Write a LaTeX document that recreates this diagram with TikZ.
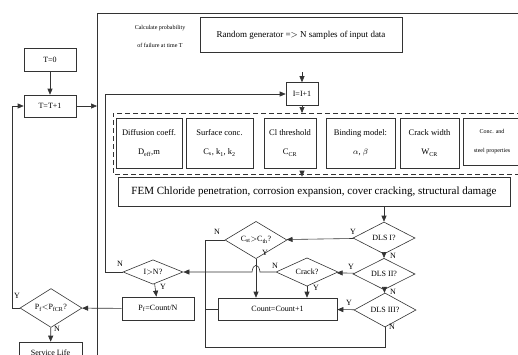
\documentclass[tikz,border=0pt]{standalone}
\usepackage{fontspec}
\setmainfont{Liberation Serif}
\usetikzlibrary{arrows.meta,shapes.geometric}

\tikzset{
  ln/.style={draw=black!80,line width=0.6pt},
  flow/.style={ln,-{Triangle[length=6pt,width=5pt]}},
  blk/.style={ln,rectangle,inner sep=1pt,align=center,font=\fontsize{8}{10}\selectfont},
  par/.style={blk,minimum height=50pt,font=\fontsize{8.5}{19}\selectfont},
  dec/.style={ln,diamond,inner sep=0pt,font=\fontsize{8}{9}\selectfont},
  yn/.style={inner sep=0pt,font=\fontsize{8}{9}\selectfont}
}

\begin{document}
\begin{tikzpicture}[x=1pt,y=-1pt]
\useasboundingbox (0,0) rectangle (518,354);
\clip (0,0) rectangle (518,354);
% outer frame and parameter group
\draw[ln] (530,13) -- (97,13) -- (97,360);
\draw[ln,line width=1pt,dash pattern=on 5pt off 3pt] (530,113) -- (113,113) -- (113,174) -- (530,174);
\node[align=center,font=\fontsize{6}{18}\selectfont] (title) at (160,36) {Calculate probability\\of failure at time T};
% time loop
\node[blk,minimum width=52pt,minimum height=23pt] (t0) at (50,60) {T=0};
\node[blk,minimum width=52pt,minimum height=22pt] (tinc) at (50,106) {T=T+1};
\coordinate (frm) at (97,106);
% sampling
\node[blk,minimum width=202pt,minimum height=35pt,font=\fontsize{9}{11}\selectfont] (randgen) at (301,35) {Random generator =$>$ N samples of input data};
\node[blk,minimum width=32pt,minimum height=23pt] (iinc) at (302,94) {I=I+1};
\coordinate (src) at (302,72);
\coordinate (grptop) at (302,113);
\coordinate (grpbot) at (302,174);
% input parameters
\node[par,minimum width=66pt] (diff) at (149,143) {Diffusion coeff.\\D\textsubscript{eff},m};
\node[par,minimum width=67pt] (surf) at (219.5,143) {Surface conc.\\C\textsubscript{s}, k\textsubscript{1}, k\textsubscript{2}};
\node[par,minimum width=52pt] (clth) at (290,143) {Cl threshold\\C\textsubscript{CR}};
\node[par,minimum width=69pt] (bind) at (360.5,143) {Binding model:\\$\alpha$, $\beta$};
\node[par,minimum width=59pt] (crackw) at (429.5,143) {Crack width\\W\textsubscript{CR}};
\node[blk,minimum width=58pt,minimum height=47pt,font=\fontsize{6}{19}\selectfont] (conc) at (492,141.5) {Conc. and\\steel properties};
\node[blk,minimum width=392pt,minimum height=29pt,font=\fontsize{11}{13}\selectfont] (fem) at (314,191.5) {FEM Chloride penetration, corrosion expansion, cover cracking, structural damage};
% limit state checks
\node[dec,minimum width=62pt,minimum height=32pt] (dls1) at (384,238) {DLS I?};
\node[dec,minimum width=62pt,minimum height=26pt] (dls2) at (384,274) {DLS II?};
\node[dec,minimum width=62pt,minimum height=26pt] (dls3) at (385,310) {DLS III?};
\node[dec,minimum width=62pt,minimum height=24pt] (cst) at (256,240) {C\textsubscript{st}$>$C\textsubscript{th}?};
\node[dec,minimum width=62pt,minimum height=25pt] (crk) at (307,272) {Crack?};
\node[blk,minimum width=119pt,minimum height=22pt] (count) at (277.5,309) {Count=Count+1};
\node[dec,minimum width=60pt,minimum height=24pt] (ingt) at (153,272) {I$>$N?};
\node[blk,minimum width=72pt,minimum height=23pt] (pf) at (158,308.5) {P\textsubscript{f}=Count/N};
\node[dec,minimum width=62pt,minimum height=23pt] (pfcr) at (51,308) {P\textsubscript{f}$<$P\textsubscript{fCR}?};
\node[blk,minimum width=63pt,minimum height=22pt] (life) at (50.5,353) {Service Life};
\coordinate (jtop) at (205,240);
\coordinate (jbot) at (205,347);

\draw[flow] (t0) -- (tinc);
\draw[flow] (tinc) -- (frm);
\draw[flow] (pfcr.west) -- (12,308) |- (tinc.west);
\draw[flow] (pfcr) -- (life);
\draw[flow] (pf) -- (pfcr);
\draw[flow] (ingt) -- (pf);
\draw[flow] (ingt.west) -- (105,272) |- (iinc.west);
\draw[flow] (src) -- (iinc);
\draw[flow] (iinc) -- (grptop);
\draw[flow] (grpbot) -- (fem.north -| grpbot);
\draw[flow] (fem.south -| dls1) -- (dls1);
\draw[flow] (dls1) -- (dls2);
\draw[flow] (dls2) -- (dls3);
\draw[flow] (dls1) -- (cst);
\draw[flow] (dls2) -- (crk);
\draw[flow] (dls3) -- (count);
\draw[flow] (crk) -- (crk |- count.north);
\draw[flow] (cst) -- (cst |- count.north);
\draw[flow] (crk.west) -- (260,272) .. controls (259,263) and (253,263) .. (252,272) -- (ingt.east);
\draw[ln] (cst.west) -- (jtop) -- (jbot) -| (dls3.south);
\draw[ln] (count.west) -- (count.west -| jtop);

% Y/N labels
\node[yn] (y1) at (353,232) {Y};
\node[yn] (n1) at (393,256) {N};
\node[yn] (y2) at (351,267) {Y};
\node[yn] (n2) at (393,292) {N};
\node[yn] (y3) at (349,303) {Y};
\node[yn] (n3) at (392,327) {N};
\node[yn] (n4) at (217,232) {N};
\node[yn] (y4) at (265,253) {Y};
\node[yn] (n5) at (275,266) {N};
\node[yn] (y5) at (316,288) {Y};
\node[yn] (n6) at (120,264) {N};
\node[yn] (y6) at (163,287) {Y};
\node[yn] (y7) at (17,296) {Y};
\node[yn] (n7) at (57,329) {N};
\end{tikzpicture}
\end{document}
